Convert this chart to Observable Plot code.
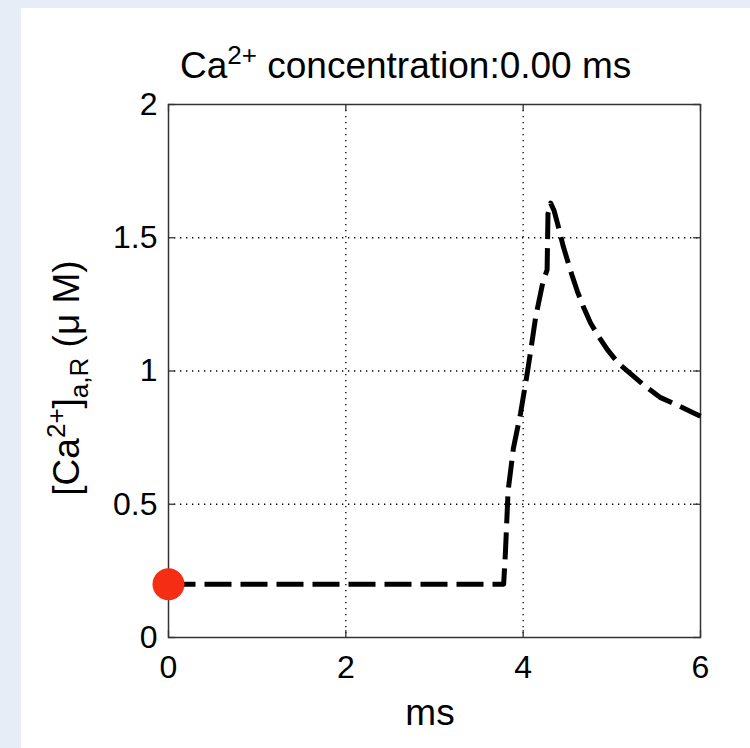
<!DOCTYPE html>
<html>
<head>
<meta charset="utf-8">
<script src="https://cdn.jsdelivr.net/npm/d3@7"></script>
<script src="https://cdn.jsdelivr.net/npm/@observablehq/plot@0.6"></script>
<style>
  html, body { margin: 0; padding: 0; }
  #wrap { position: relative; width: 750px; height: 748px; background: #e6edf7; overflow: hidden; }
  #panel { position: absolute; left: 21px; top: 8px; right: 0; bottom: 0; background: #ffffff; }
  #chart { position: absolute; left: 0; top: 0; }
  #chart svg { background: transparent; }
</style>
</head>
<body>
<div id="wrap"><div id="panel"></div><div id="chart"></div></div>
<script>
// ---- data ----
const timeMs = [0, 3.78, 3.80, 3.83, 3.89, 3.97, 4.05, 4.10, 4.14, 4.22, 4.27, 4.28, 4.31, 4.35, 4.39, 4.45, 4.50, 4.55, 4.61, 4.68, 4.76, 4.85, 4.95, 5.07, 5.21, 5.35, 5.55, 5.75, 5.94, 6.00];
const caConc = [0.2, 0.2, 0.32, 0.55, 0.71, 0.84, 1.0, 1.11, 1.2, 1.33, 1.38, 1.59, 1.63, 1.60, 1.55, 1.47, 1.415, 1.36, 1.30, 1.24, 1.18, 1.13, 1.08, 1.03, 0.99, 0.95, 0.90, 0.87, 0.84, 0.83];
const markerTime = [0];
const markerConc = [0.2];
const xTicks = [0, 2, 4, 6];
const yTicks = [0, 0.5, 1, 1.5, 2];
const xGrid = [2, 4];
const yGrid = [0.5, 1, 1.5];
const titleMain = "Ca";
const titleSup = "2+";
const titleRest = " concentration:0.00 ms";
const xLabel = "ms";

const curve = timeMs.map((t, i) => ({t, c: caConc[i]}));
const marker = markerTime.map((t, i) => ({t, c: markerConc[i]}));

const W = 750, H = 748;
const mL = 168, mR = 50, mT = 104, mB = 111;
const plotW = W - mL - mR, plotH = H - mT - mB;
const FONT = "'Liberation Sans', Arial, Helvetica, sans-serif";

const chart = Plot.plot({
  width: W, height: H,
  marginLeft: mL, marginRight: mR, marginTop: mT, marginBottom: mB,
  style: {fontFamily: FONT, background: "transparent", color: "black"},
  x: {domain: [0, 6]},
  y: {domain: [0, 2]},
  marks: [
    Plot.gridX(xGrid, {stroke: "black", strokeOpacity: 1, strokeWidth: 1.3, strokeDasharray: "1.3,4.7"}),
    Plot.gridY(yGrid, {stroke: "black", strokeOpacity: 1, strokeWidth: 1.3, strokeDasharray: "1.3,4.7"}),
    // inward ticks on all four sides
    Plot.ruleX(xTicks, {x: d => d, stroke: "#333", strokeWidth: 1.3, insetTop: plotH - 7}),
    Plot.ruleX(xTicks, {x: d => d, stroke: "#333", strokeWidth: 1.3, insetBottom: plotH - 7}),
    Plot.ruleY(yTicks, {y: d => d, stroke: "#333", strokeWidth: 1.3, insetRight: plotW - 7}),
    Plot.ruleY(yTicks, {y: d => d, stroke: "#333", strokeWidth: 1.3, insetLeft: plotW - 7}),
    Plot.frame({stroke: "#333", strokeWidth: 1.5}),
    Plot.axisX(xTicks, {tickSize: 0, tickPadding: 18, fontSize: 32, label: null, tickFormat: d => String(d)}),
    Plot.axisY(yTicks, {tickSize: 0, tickPadding: 11, fontSize: 32, label: null, tickFormat: d => String(d)}),
    Plot.line(curve, {x: "t", y: "c", stroke: "black", strokeWidth: 5, strokeDasharray: "27,9", strokeLinecap: "butt", strokeLinejoin: "round"}),
    Plot.dot(marker, {x: "t", y: "c", r: 16, fill: "#f42d14", stroke: "none"})
  ]
});
document.getElementById("chart").appendChild(chart);

// titles with super/subscripts
const svg = d3.select(chart);
const title = svg.append("text")
  .attr("x", 180).attr("y", 78).attr("text-anchor", "start")
  .attr("font-family", FONT).attr("font-size", 37).attr("fill", "black");
title.append("tspan").text(titleMain);
title.append("tspan").attr("font-size", 26).attr("dy", -14).text(titleSup);
title.append("tspan").attr("dy", 14).text(titleRest);

svg.append("text")
  .attr("x", 430).attr("y", 725).attr("text-anchor", "middle")
  .attr("font-family", FONT).attr("font-size", 37).attr("fill", "black")
  .text(xLabel);

const yl = svg.append("text")
  .attr("transform", "translate(79,378) rotate(-90)")
  .attr("text-anchor", "middle")
  .attr("font-family", FONT).attr("font-size", 37).attr("fill", "black");
yl.append("tspan").text("[Ca");
yl.append("tspan").attr("font-size", 26).attr("dy", -14).text("2+");
yl.append("tspan").attr("dy", 14).text("]");
yl.append("tspan").attr("font-size", 26).attr("dy", 9).text("a,R");
yl.append("tspan").attr("dy", -9).text(" (\u03BC M)");
</script>
</body>
</html>
